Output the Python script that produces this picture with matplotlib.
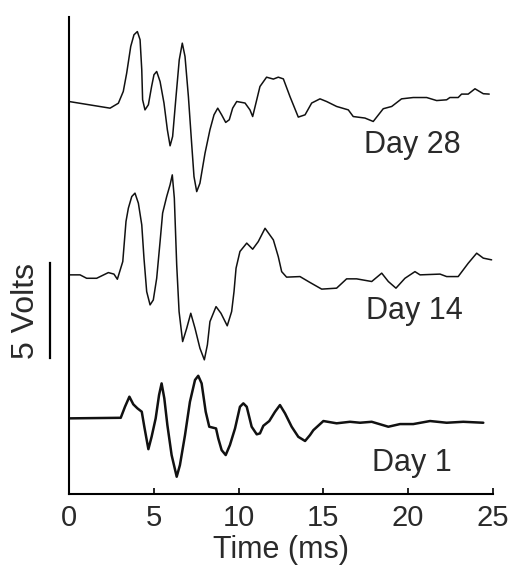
import matplotlib
matplotlib.use("Agg")
import matplotlib.pyplot as plt

plt.rcParams['font.family'] = ['Liberation Sans', 'DejaVu Sans']

# Traces: time (ms) and signal (V) relative to each trace's baseline
day28_t = [0, 2.42, 2.91, 3.20, 3.40, 3.64, 3.83, 4.03, 4.19, 4.29, 4.34, 4.48, 4.68, 4.87, 5.01,
           5.17, 5.37, 5.60, 5.80, 5.96, 6.11, 6.31, 6.50, 6.68, 6.84, 7.04, 7.23, 7.37, 7.53,
           7.72, 8.02, 8.31, 8.55, 8.77, 9.0, 9.24, 9.45, 9.65, 9.89, 10.38, 10.67, 10.83,
           11.07, 11.26, 11.65, 12.05, 12.34, 12.64, 13.03, 13.52, 13.92, 14.31, 14.80, 15.19,
           15.78, 16.47, 16.76, 17.45, 17.94, 18.53, 19.03, 19.61, 20.30, 21.09, 21.68, 22.27,
           22.46, 22.95, 23.15, 23.54, 23.94, 24.43, 24.78]
day28_v = [0, -0.35, -0.09, 0.53, 1.49, 2.90, 3.51, 3.68, 3.25, 1.67, 0.09, -0.44, -0.17, 0.79, 1.41,
           1.58, 1.05, -0.08, -1.49, -2.33, -1.84, 0.26, 2.19, 3.07, 2.37, 0.26, -2.19, -3.95, -4.74,
           -4.30, -2.72, -1.49, -0.70, -0.35, -0.70, -1.10, -0.96, -0.35, 0, -0.08, -0.44, -0.79,
           0.09, 0.79, 1.28, 1.18, 1.28, 1.19, 0.26, -0.82, -0.70, -0.08, 0.14, 0,
           -0.26, -0.44, -0.79, -0.87, -1.05, -0.38, -0.26, 0.14, 0.21, 0.21, 0.05, 0.09,
           0.21, 0.21, 0.39, 0.39, 0.67, 0.41, 0.39]

day14_t = [0, 0.65, 1.04, 1.63, 2.32, 2.65, 2.85, 3.17, 3.36, 3.50, 3.70, 3.89, 4.09, 4.29, 4.42,
           4.58, 4.78, 4.97, 5.17, 5.37, 5.52, 5.76, 5.96, 6.09, 6.21, 6.35, 6.49, 6.70, 6.94,
           7.18, 7.43, 7.72, 7.98, 8.16, 8.31, 8.67, 8.96, 9.33, 9.59, 9.73, 9.85, 10.08, 10.48,
           10.83, 11.16, 11.56, 12.05, 12.34, 12.54, 12.83, 13.62, 14.21, 14.90, 15.78, 16.37,
           16.96, 17.85, 18.44, 18.83, 19.28, 19.81, 20.40, 20.70, 21.88, 22.27, 22.95, 23.54,
           24.04, 24.43, 24.92]
day14_v = [0, 0, -0.18, -0.18, 0.12, 0.04, -0.23, 0.70, 2.81, 3.51, 4.12, 4.30, 3.77, 2.63, 0.88,
           -0.88, -1.58, -1.32, -0.18, 1.75, 3.25, 4.12, 4.74, 5.26, 4.04, 0.53, -1.93, -3.51, -2.81,
           -2.02, -2.81, -3.86, -4.47, -3.68, -2.46, -1.67, -2.02, -2.68, -1.93, -0.88, 0.35, 1.23, 1.67,
           1.35, 1.75, 2.45, 1.84, 0.96, 0.17, -0.12, -0.09, -0.40, -0.75, -0.70, -0.21,
           -0.21, -0.35, 0.09, -0.35, -0.70, -0.18, 0.17, 0, 0.04, -0.09, -0.09, 0.61,
           1.14, 0.88, 0.79]

day1_t = [0, 3.05, 3.30, 3.56, 3.79, 4.03, 4.29, 4.44, 4.68, 4.87, 5.11, 5.31, 5.46, 5.62, 5.80,
          6.05, 6.35, 6.54, 6.84, 7.13, 7.43, 7.62, 7.82, 8.06, 8.27, 8.67, 8.80, 9.0, 9.24,
          9.49, 9.79, 10.08, 10.28, 10.48, 10.77, 11.07, 11.26, 11.46, 11.81, 12.15, 12.44,
          12.74, 13.13, 13.52, 13.92, 14.21, 14.41, 15.0, 15.78, 16.57, 17.16, 17.85, 18.83,
          19.52, 20.30, 21.29, 22.27, 23.25, 24.43]
day1_v = [0, 0.03, 0.61, 1.14, 0.74, 0.53, 0.35, -0.44, -1.62, -0.97, 0, 1.23, 1.84, 1.05, -0.35,
          -1.93, -3.07, -2.46, -0.88, 0.87, 2.02, 2.24, 1.84, 0.35, -0.44, -0.53, -1.05, -1.67, -1.93,
          -1.40, -0.53, 0.61, 0.79, 0.61, -0.44, -0.84, -0.79, -0.39, -0.14, 0.35, 0.70,
          0.26, -0.44, -0.97, -1.19, -0.88, -0.62, -0.14, -0.26, -0.18, -0.23, -0.18, -0.44,
          -0.30, -0.30, -0.14, -0.23, -0.18, -0.23]

labels = ["Day 28", "Day 14", "Day 1"]
x_ticks = [0, 5, 10, 15, 20, 25]

offsets = [20.65, 11.53, 3.98]
widths = [1.1, 1.1, 1.8]

fig = plt.figure(figsize=(5.12, 5.70), dpi=100)
ax = fig.add_axes([0.1348, 0.1333, 0.828, 0.837])

traces = [(day28_t, day28_v), (day14_t, day14_v), (day1_t, day1_v)]
for (t, v), off, lw in zip(traces, offsets, widths):
    ax.plot(t, [off + val for val in v], color='#111111', lw=lw,
            solid_joinstyle='round', solid_capstyle='round')

txt_color = '#2a2a2a'
label_pos = [(17.4, 18.37), (17.5, 9.63), (17.85, 1.63)]
for lab, (lx, ly) in zip(labels, label_pos):
    ax.text(lx, ly, lab, fontsize=22, ha='left', va='center', color=txt_color)

ax.set_xlim(0, 25)
ax.set_ylim(0, 25.1)
ax.set_xticks(x_ticks)
ax.set_xticklabels([str(x) for x in x_ticks])
ax.set_yticks([])
for s in ['top', 'right']:
    ax.spines[s].set_visible(False)
for s in ['left', 'bottom']:
    ax.spines[s].set_linewidth(1.5)
    ax.spines[s].set_color('black')
ax.tick_params(axis='x', direction='in', length=4, width=1.2, pad=7, labelsize=21,
               labelcolor=txt_color)
ax.set_xlabel("Time (ms)", fontsize=22, color=txt_color, labelpad=2)

# 5 V scale bar
ax.plot([-1.12, -1.12], [7.16, 7.16 + 5], color='black', lw=1.6, clip_on=False)
ax.text(-2.55, 9.65, "5 Volts", rotation=90, fontsize=23, ha='center', va='center',
        color=txt_color, clip_on=False)

fig.savefig("out.png", dpi=100)
